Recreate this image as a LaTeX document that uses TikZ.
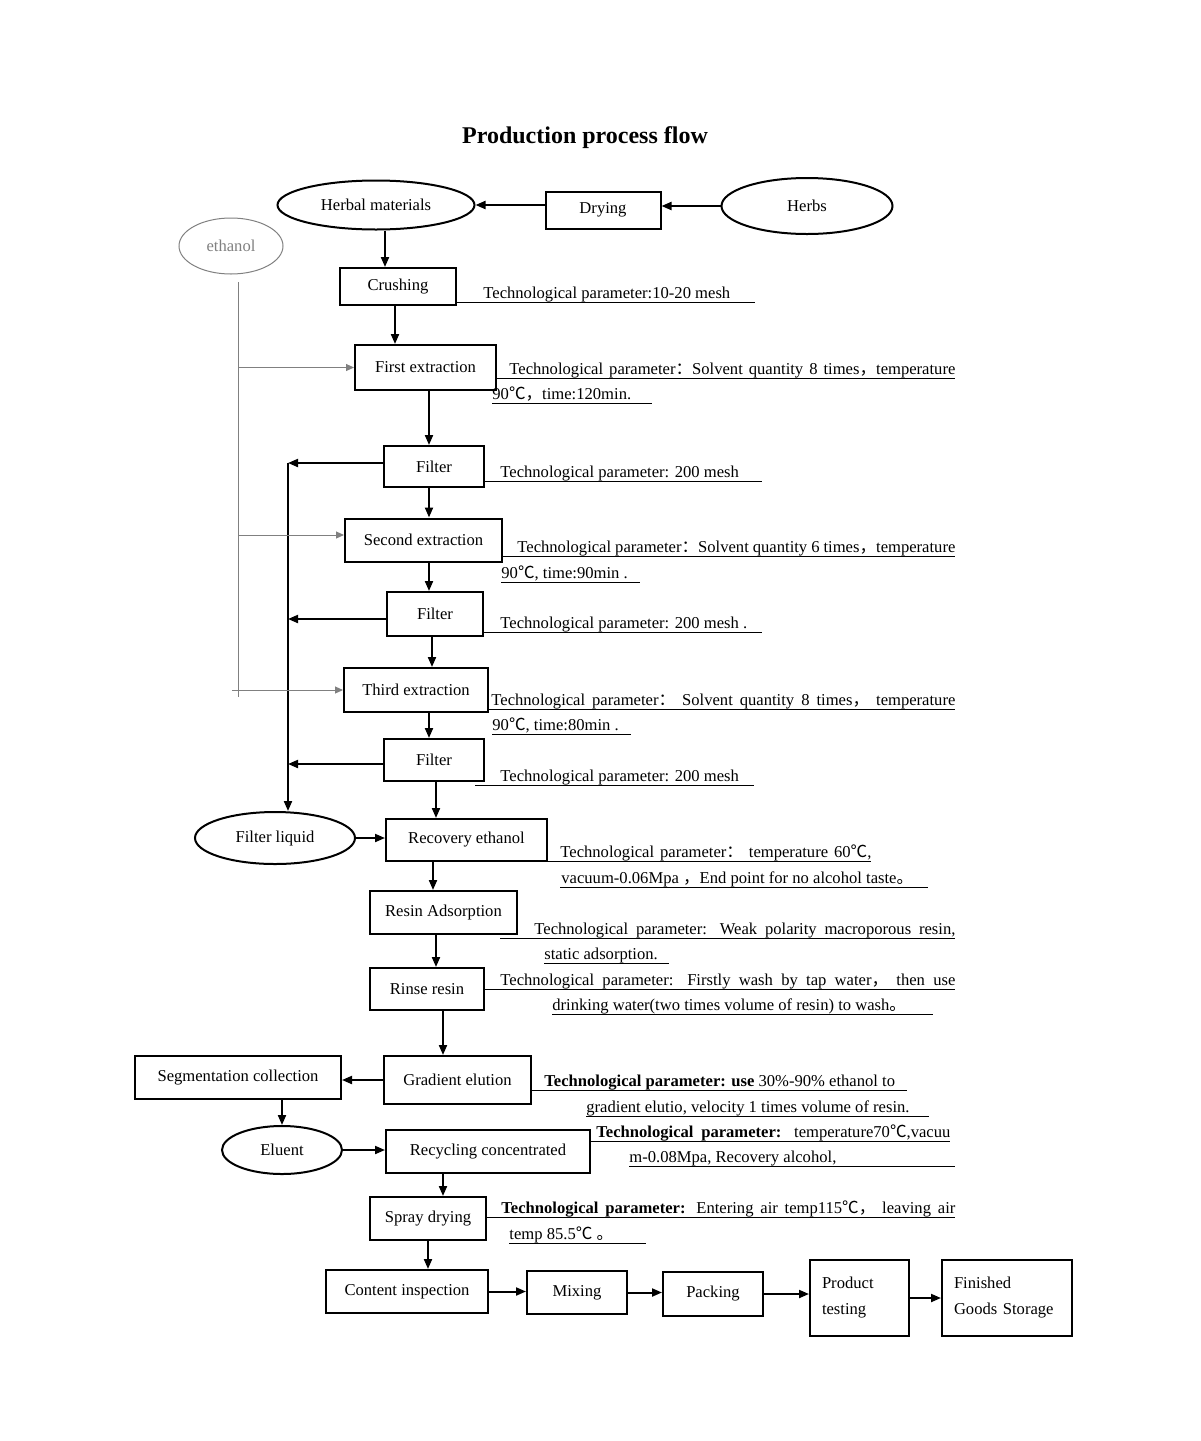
\documentclass[tikz,border=0pt]{standalone}
\usepackage{fontspec}
\setmainfont{Liberation Serif}
\newfontfamily\cjk{Noto Sans CJK SC}
\usetikzlibrary{shapes.geometric}
\usetikzlibrary{arrows.meta}

\newcommand{\fwcolon}{{\cjk ：}}
\newcommand{\fwcomma}{{\cjk ，}}
\newcommand{\fwstop}{{\cjk 。}}
\newcommand{\tempC}{{\cjk ℃}}
\newcommand{\tp}{\textbf{Technological parameter:}}

\begin{document}
\begin{tikzpicture}
	[
		x = 0.5pt, y = -0.5pt,
		every node/.style = {font = \fontsize{8.3}{13}\selectfont},
		box/.style = {rectangle, draw = black, line width = 1pt, inner sep = 0pt},
		oval/.style = {ellipse, draw = black, line width = 1pt, inner sep = 0pt},
		flow/.style = {line width = 1pt, -{Triangle[length = 5pt, width = 4pt]}},
		feed/.style = {gray, line width = 0.5pt, -{Triangle[length = 4pt, width = 3.5pt]}},
		param/.style = {anchor = base west, inner sep = 0pt},
		uline/.style = {line width = 0.5pt},
	]
	\useasboundingbox (0,0) rectangle (1200,1441);

	\node (title) at (585,138) {\fontsize{12}{14}\selectfont\bfseries Production process flow};

	% raw materials
	\node (herbal) [oval, minimum width = 98.5pt, minimum height = 24.5pt] at (376,205) {Herbal materials};
	\node (drying) [box, minimum width = 57.5pt, minimum height = 18.5pt] at (603,210) {Drying};
	\node (herbs) [oval, minimum width = 85.5pt, minimum height = 28pt] at (807,206) {Herbs};
	\node (ethanol) [oval, draw = gray, line width = 0.5pt, text = gray, minimum width = 52pt, minimum height = 28pt] at (231,246) {ethanol};

	% extraction
	\node (crushing) [box, minimum width = 58pt, minimum height = 18.5pt] at (398,286.5) {Crushing};
	\node (extr1) [box, minimum width = 70.5pt, minimum height = 22.5pt] at (425.5,367.5) {First extraction};
	\node (filter1) [box, minimum width = 50pt, minimum height = 20.5pt] at (434,466.5) {Filter};
	\node (extr2) [box, minimum width = 78.5pt, minimum height = 21.5pt] at (423.5,540) {Second extraction};
	\node (filter2) [box, minimum width = 48pt, minimum height = 22pt] at (435,614) {Filter};
	\node (extr3) [box, minimum width = 72pt, minimum height = 22pt] at (416,690) {Third extraction};
	\node (filter3) [box, minimum width = 50pt, minimum height = 21pt] at (434,760) {Filter};
	\node (liquid) [oval, minimum width = 80pt, minimum height = 26pt] at (275,838) {Filter liquid};

	% purification
	\node (recovery) [box, minimum width = 80.5pt, minimum height = 21pt] at (466.5,840) {Recovery ethanol};
	\node (resin) [box, minimum width = 73.5pt, minimum height = 21.5pt] at (443.5,912.5) {Resin Adsorption};
	\node (rinse) [box, minimum width = 57pt, minimum height = 21pt] at (427,989) {Rinse resin};
	\node (gradient) [box, minimum width = 73.5pt, minimum height = 24pt] at (457.5,1080) {Gradient elution};
	\node (segment) [box, minimum width = 103pt, minimum height = 21.5pt] at (238,1077.5) {Segmentation collection};
	\node (eluent) [oval, minimum width = 60pt, minimum height = 24pt] at (282,1150) {Eluent};
	\node (recycle) [box, minimum width = 102pt, minimum height = 21.5pt] at (488,1151.5) {Recycling concentrated};
	\node (spray) [box, minimum width = 58pt, minimum height = 21.5pt] at (428,1218.5) {Spray drying};

	% finishing
	\node (content) [box, minimum width = 81pt, minimum height = 21.5pt] at (407,1291.5) {Content inspection};
	\node (mixing) [box, minimum width = 50pt, minimum height = 21.5pt] at (577,1292.5) {Mixing};
	\node (packing) [box, minimum width = 50pt, minimum height = 22pt] at (713,1294) {Packing};
	\node (testing) [box, align = left, text width = 37.5pt, inner xsep = 6pt, minimum height = 38pt] at (859.5,1298) {Product\\testing};
	\node (storage) [box, align = left, text width = 53pt, inner xsep = 6pt, minimum height = 38pt] at (1007,1298) {Finished\\Goods Storage};

	\coordinate (bus1) at (288,463);
	\coordinate (bus2) at (288,619);
	\coordinate (bus3) at (288,764);
	\coordinate (feedtop) at (238,282);
	\coordinate (feedbot) at (238,697);

	% main flow
	\draw [flow] (drying.west |- herbal.east) -- (herbal.east);
	\draw [flow] (herbs.west) -- (herbs.west -| drying.east);
	\draw [flow] (herbal.south -| 385,0) -- (crushing.north -| 385,0);
	\draw [flow] (crushing.south -| 395,0) -- (extr1.north -| 395,0);
	\draw [flow] (extr1.south -| 429,0) -- (filter1.north -| 429,0);
	\draw [flow] (filter1.south -| 429,0) -- (extr2.north -| 429,0);
	\draw [flow] (extr2.south -| 429,0) -- (filter2.north -| 429,0);
	\draw [flow] (filter2.south -| 432,0) -- (extr3.north -| 432,0);
	\draw [flow] (extr3.south -| 429,0) -- (filter3.north -| 429,0);
	\draw [flow] (filter3.south -| 436,0) -- (recovery.north -| 436,0);
	\draw [flow] (liquid.east) -- (liquid.east -| recovery.west);
	\draw [flow] (recovery.south -| 433,0) -- (resin.north -| 433,0);
	\draw [flow] (resin.south -| 436,0) -- (rinse.north -| 436,0);
	\draw [flow] (rinse.south -| 443,0) -- (gradient.north -| 443,0);
	\draw [flow] (gradient.west) -- (gradient.west -| segment.east);
	\draw [flow] (segment.south -| eluent.north) -- (eluent.north);
	\draw [flow] (eluent.east) -- (eluent.east -| recycle.west);
	\draw [flow] (recycle.south -| 443,0) -- (spray.north -| 443,0);
	\draw [flow] (spray.south) -- (content.north -| spray.south);
	\draw [flow] (content.east) -- (content.east -| mixing.west);
	\draw [flow] (mixing.east) -- (mixing.east -| packing.west);
	\draw [flow] (packing.east) -- (packing.east -| testing.west);
	\draw [flow] (testing.east) -- (storage.west);

	% filtrate
	\draw [flow] (filter1.west |- bus1) -- (bus1);
	\draw [flow] (filter2.west |- bus2) -- (bus2);
	\draw [flow] (filter3.west |- bus3) -- (bus3);
	\draw [flow] (bus1) -- (liquid.north -| bus1);

	% ethanol feed
	\draw [gray, line width = 0.5pt] (feedtop) -- (feedbot);
	\draw [feed] (extr1.west -| feedtop) -- (extr1.west);
	\draw [feed] (feedtop |- 0,535) -- (extr2.west |- 0,535);
	\draw [feed] (extr3.west -| 232,0) -- (extr3.west);

	% technological parameters
	\node (p1) [param] at (483,298) {Technological parameter:10-20 mesh};
	\draw [uline] (crushing.east |- 0,302) -- (755,302);
	\node (p2a) [param] at (509,374) {\makebox[223pt][s]{Technological parameter\fwcolon Solvent quantity 8 times\fwcomma temperature}};
	\draw [uline] (extr1.east |- 0,378) -- (955,378);
	\node (p2b) [param] at (492,399) {90\tempC\fwcomma time:120min.};
	\draw [uline] (492,403) -- (652,403);
	\node (p3) [param] at (500,477) {Technological parameter: 200 mesh};
	\draw [uline] (filter1.east |- 0,481) -- (762,481);
	\node (p4a) [param] at (517,552) {\makebox[219pt][s]{Technological parameter\fwcolon Solvent quantity 6 times\fwcomma temperature}};
	\draw [uline] (extr2.east |- 0,556) -- (955,556);
	\node (p4b) [param] at (501,578) {90\tempC, time:90min .};
	\draw [uline] (501,582) -- (640,582);
	\node (p5) [param] at (500,628) {Technological parameter: 200 mesh .};
	\draw [uline] (filter2.east |- 0,632) -- (762,632);
	\node (p6a) [param] at (491,705) {\makebox[232pt][s]{Technological parameter\fwcolon{} Solvent quantity 8 times\fwcomma{} temperature}};
	\draw [uline] (extr3.east |- 0,709) -- (955,709);
	\node (p6b) [param] at (492,730) {90\tempC, time:80min .};
	\draw [uline] (492,734) -- (631,734);
	\node (p7) [param] at (500,781) {Technological parameter: 200 mesh};
	\draw [uline] (475,785) -- (754,785);
	\node (p8a) [param] at (560,857) {\makebox[155.5pt][s]{Technological parameter\fwcolon{} temperature 60\tempC,}};
	\draw [uline] (recovery.east |- 0,861) -- (871,861);
	\node (p8b) [param] at (561,883) {vacuum-0.06Mpa \fwcomma End point for no alcohol taste\fwstop};
	\draw [uline] (560,887) -- (928,887);
	\node (p9a) [param] at (534,934) {\makebox[210.5pt][s]{Technological parameter: Weak polarity macroporous resin,}};
	\draw [uline] (500,938) -- (955,938);
	\node (p9b) [param] at (544,959) {static adsorption.};
	\draw [uline] (544,963) -- (669,963);
	\node (p10a) [param] at (500,985) {\makebox[227.5pt][s]{Technological parameter: Firstly wash by tap water\fwcomma{} then use}};
	\draw [uline] (rinse.east |- 0,989) -- (955,989);
	\node (p10b) [param] at (552,1010) {drinking water(two times volume of resin) to wash\fwstop};
	\draw [uline] (552,1014) -- (933,1014);
	\node (p11a) [param] at (544,1086) {\textbf{Technological parameter: use} 30\%-90\% ethanol to};
	\draw [uline] (gradient.east |- 0,1090) -- (907,1090);
	\node (p11b) [param] at (586,1112) {gradient elutio, velocity 1 times volume of resin.};
	\draw [uline] (586,1116) -- (929,1116);
	\node (p12a) [param] at (596,1137) {\makebox[177pt][s]{\tp{} temperature70\tempC,vacuu}};
	\draw [uline] (recycle.east |- 0,1141) -- (950,1141);
	\node (p12b) [param] at (629,1162) {m-0.08Mpa, Recovery alcohol,};
	\draw [uline] (629,1166) -- (955,1166);
	\node (p13a) [param] at (501,1213) {\makebox[227pt][s]{\tp{} Entering air temp115\tempC\fwcomma{} leaving air}};
	\draw [uline] (spray.east |- 0,1217) -- (955,1217);
	\node (p13b) [param] at (509,1239) {temp 85.5\tempC\ \fwstop};
	\draw [uline] (509,1243) -- (646,1243);
\end{tikzpicture}
\end{document}
